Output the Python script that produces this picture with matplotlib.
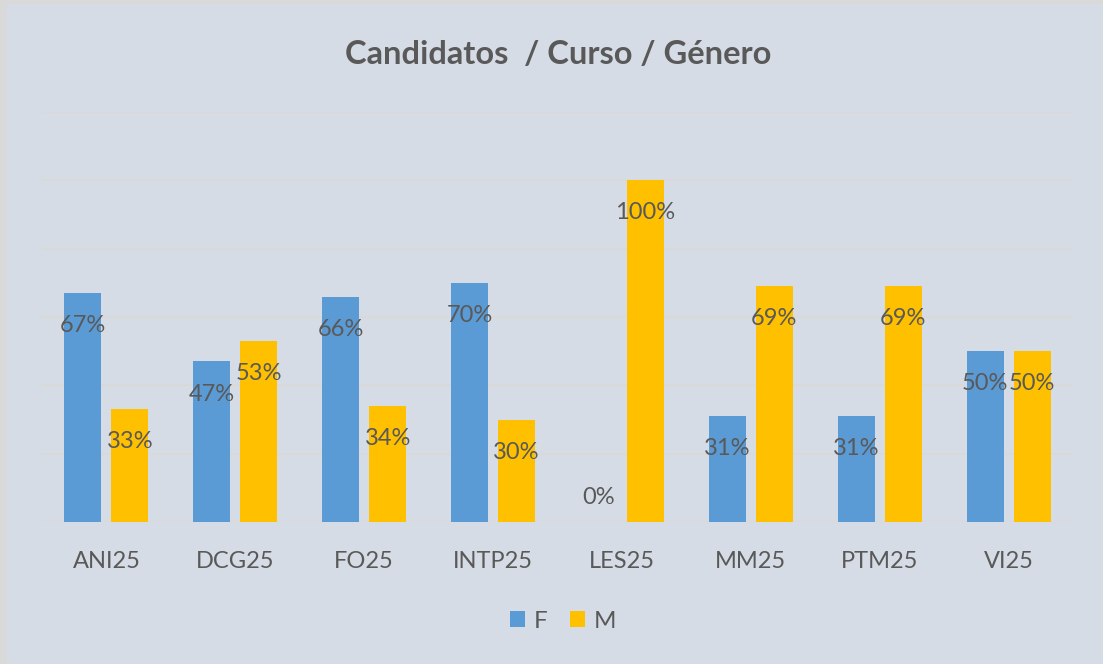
import matplotlib
matplotlib.use("Agg")
import matplotlib.pyplot as plt
from matplotlib.patches import Rectangle
import numpy as np

categories = ["ANI25", "DCG25", "FO25", "INTP25", "LES25", "MM25", "PTM25", "VI25"]
f_vals = [0.67, 0.47, 0.66, 0.70, 0.00, 0.31, 0.31, 0.50]
m_vals = [0.33, 0.53, 0.34, 0.30, 1.00, 0.69, 0.69, 0.50]
title = "Candidatos  / Curso / Género"

BG = "#D6DCE5"
TXT = "#595959"
BLUE = "#5B9BD5"
GOLD = "#FFC000"
GRID = "#D9D9D9"

plt.rcParams['font.family'] = ['Lato', 'DejaVu Sans']

W, H = 1103, 664
fig = plt.figure(figsize=(W/100, H/100), dpi=100)
fig.patch.set_facecolor("#D9D9D9")
fig.patches.append(Rectangle((7/W, 0), 1 - 7/W, 1 - 4/H, transform=fig.transFigure,
                             facecolor=BG, edgecolor="none", zorder=-10))

ax = fig.add_axes([42/W, (H-522)/H, (1073-42)/W, (522-112)/H])
ax.set_facecolor("none")
x = np.arange(len(categories))
bw = 0.287
off = 0.182
bf = ax.bar(x - off, f_vals, bw, color=BLUE, label="F", zorder=3)
bm = ax.bar(x + off, m_vals, bw, color=GOLD, label="M", zorder=3)

for bars, vals in ((bf, f_vals), (bm, m_vals)):
    for b, v in zip(bars, vals):
        dy = -23.5 if v > 0 else 18
        ax.annotate(f"{round(v*100)}%", (b.get_x() + b.get_width()/2, v),
                    xytext=(0, dy), textcoords="offset points",
                    ha="center", va="center", fontsize=17, color=TXT, zorder=5)

ax.set_xlim(-0.5, len(categories) - 0.5)
ax.set_ylim(0, 1.2)
ax.set_yticks(np.arange(0, 1.21, 0.2))
ax.yaxis.grid(True, color=GRID, linewidth=1.5, zorder=0)
ax.tick_params(axis='y', left=False, labelleft=False)
ax.set_xticks(x)
ax.set_xticklabels(categories, fontsize=17, color=TXT)
ax.tick_params(axis='x', length=0, pad=21)
for s in ax.spines.values():
    s.set_visible(False)

fig.text(0.506, 1 - 55/H, title, ha="center", va="center", fontsize=23.5,
         fontweight="bold", color=TXT)

leg = fig.legend(handles=[bf, bm], labels=["F", "M"], loc="center",
                 bbox_to_anchor=(563/W, 1 - 621/H), ncol=2, frameon=False,
                 fontsize=17.5, handlelength=0.65, handleheight=0.65,
                 handletextpad=0.35, columnspacing=0.9)
for t in leg.get_texts():
    t.set_color(TXT)

fig.savefig("out.png", dpi=100, facecolor=fig.get_facecolor())
